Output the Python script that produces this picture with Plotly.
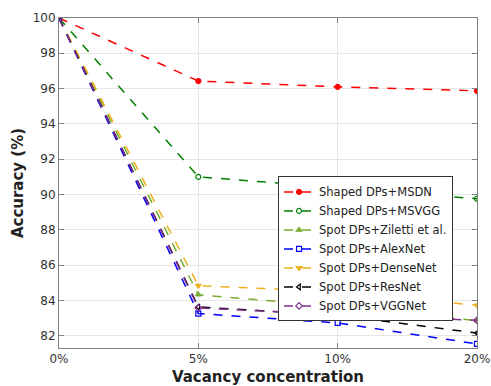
import plotly.graph_objects as go

categories = ["0%", "5%", "10%", "20%"]
names = ["Shaped DPs+MSDN", "Shaped DPs+MSVGG", "Spot DPs+Ziletti et al.",
         "Spot DPs+AlexNet", "Spot DPs+DenseNet", "Spot DPs+ResNet", "Spot DPs+VGGNet"]
msdn = [100, 96.43, 96.1, 95.87]
msvgg = [100, 91.0, 90.38, 89.76]
ziletti = [100, 84.32, 83.66, 82.85]
alexnet = [100, 83.25, 82.72, 81.53]
densenet = [100, 84.83, 84.5, 83.72]
resnet = [100, 83.63, 83.15, 82.15]
vggnet = [100, 83.57, 83.19, 82.87]

series = [msdn, msvgg, ziletti, alexnet, densenet, resnet, vggnet]
colors = ["#ff0000", "#008000", "#77ac30", "#0000ff", "#edb120", "#000000", "#7e2f8e"]
symbols = ["circle", "circle-open", "triangle-up", "square-open", "triangle-down",
           "triangle-left-open", "diamond-open"]

fig = go.Figure()
for n, s, c, sym in zip(names, series, colors, symbols):
    fig.add_trace(go.Scatter(
        x=categories, y=s, name=n, mode="lines+markers",
        line=dict(color=c, width=1.5, dash="dash"),
        marker=dict(symbol=sym, size=5, color=c, line=dict(color=c, width=1.2)),
    ))

axis_common = dict(
    showline=True, linecolor="#808080", linewidth=1, mirror="ticks",
    showgrid=True, gridcolor="#e6e6e6", gridwidth=1,
    ticks="inside", ticklen=5, tickcolor="#808080",
    tickfont=dict(family="DejaVu Sans", size=12, color="#333333"),
    zeroline=False, automargin=False,
)
fig.update_xaxes(type="category", range=[0, 3],
                 title=dict(text="<b>Vacancy concentration</b>", standoff=10,
                            font=dict(family="DejaVu Sans", size=15, color="#222222")),
                 **axis_common)
fig.update_yaxes(range=[81.3, 100], tickvals=[82, 84, 86, 88, 90, 92, 94, 96, 98, 100],
                 title=dict(text="<b>Accuracy (%)</b>", standoff=5,
                            font=dict(family="DejaVu Sans", size=15, color="#222222")),
                 **axis_common)

fig.update_layout(
    width=491, height=386,
    margin=dict(l=59, r=14, t=18, b=38),
    paper_bgcolor="white", plot_bgcolor="white",
    legend=dict(x=0.524, y=0.52, xanchor="left", yanchor="top",
                bgcolor="white", bordercolor="#333333", borderwidth=1,
                font=dict(family="DejaVu Sans", size=11.5, color="#222222"),
                tracegroupgap=0, itemwidth=30),
    showlegend=True,
)
fig.write_html("out.html")
